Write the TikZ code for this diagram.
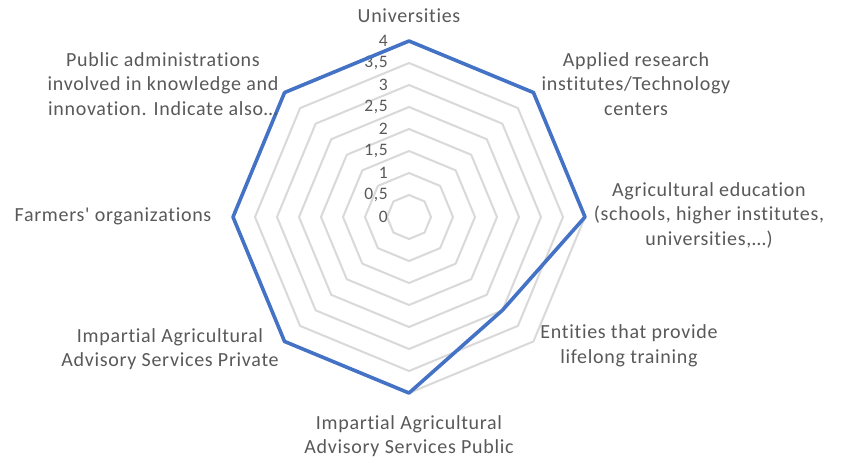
\documentclass[tikz,border=0pt]{standalone}
\usepackage{fontspec}
\setmainfont{Carlito}
\newfontfamily\lblfont{Carlito}[LetterSpace=3.5, Ligatures=NoCommon]
\definecolor{txt}{HTML}{595959}
\definecolor{gridc}{HTML}{D9D9D9}
\definecolor{serie}{HTML}{4472C4}
\tikzset{
  gridline/.style={draw=gridc, line width=2pt, line join=round},
  dataline/.style={draw=serie, line width=3.6pt, line join=round},
  catlabel/.style={text=txt, align=center, inner sep=0pt, font=\lblfont\fontsize{20}{24.5}\selectfont},
  axlabel/.style={text=txt, anchor=east, inner sep=0pt, font=\lblfont\fontsize{17.5}{20}\selectfont},
}
\begin{document}
\begin{tikzpicture}[x=1pt,y=1pt]
\useasboundingbox[fill=white] (0,0) rectangle (851,-461);
\coordinate (O) at (409,-217);
\begin{scope}[shift={(409,-217)}]
\foreach \k in {1,...,8}{
  \draw[gridline] (90:\k*22) \foreach \a in {45,0,-45,-90,-135,180,135}{ -- (\a:\k*22)} -- cycle;
}
\foreach \v/\lab in {0/0,1/{0,5},2/1,3/{1,5},4/2,5/{2,5},6/3,7/{3,5},8/4}{
  \node[axlabel] (ax\v) at (-21,\v*22) {\lab};
}
\coordinate (p1) at (90:176);
\coordinate (p2) at (45:176);
\coordinate (p3) at (0:176);
\coordinate (p4) at (-45:132);
\coordinate (p5) at (-90:176);
\coordinate (p6) at (-135:176);
\coordinate (p7) at (180:176);
\coordinate (p8) at (135:176);
\end{scope}
\draw[dataline] (p1) -- (p2) -- (p3) -- (p4) -- (p5) -- (p6) -- (p7) -- (p8) -- cycle;
\node[catlabel] (c1) at (409,-16) {Universities};
\node[catlabel] (c2) at (636,-84) {Applied research\\institutes/Technology\\centers};
\node[catlabel] (c3) at (709,-215) {Agricultural education\\(schools, higher institutes,\\universities,…)};
\node[catlabel] (c4) at (629,-346) {Entities that provide\\lifelong training};
\node[catlabel] (c5) at (409,-436) {Impartial Agricultural\\Advisory Services Public};
\node[catlabel] (c6) at (170,-349) {Impartial Agricultural\\Advisory Services Private};
\node[catlabel] (c7) at (113,-216) {Farmers' organizations};
\node[catlabel] (c8) at (163,-84) {Public administrations\\involved in knowledge and\\innovation. Indicate also…};
\end{tikzpicture}
\end{document}
